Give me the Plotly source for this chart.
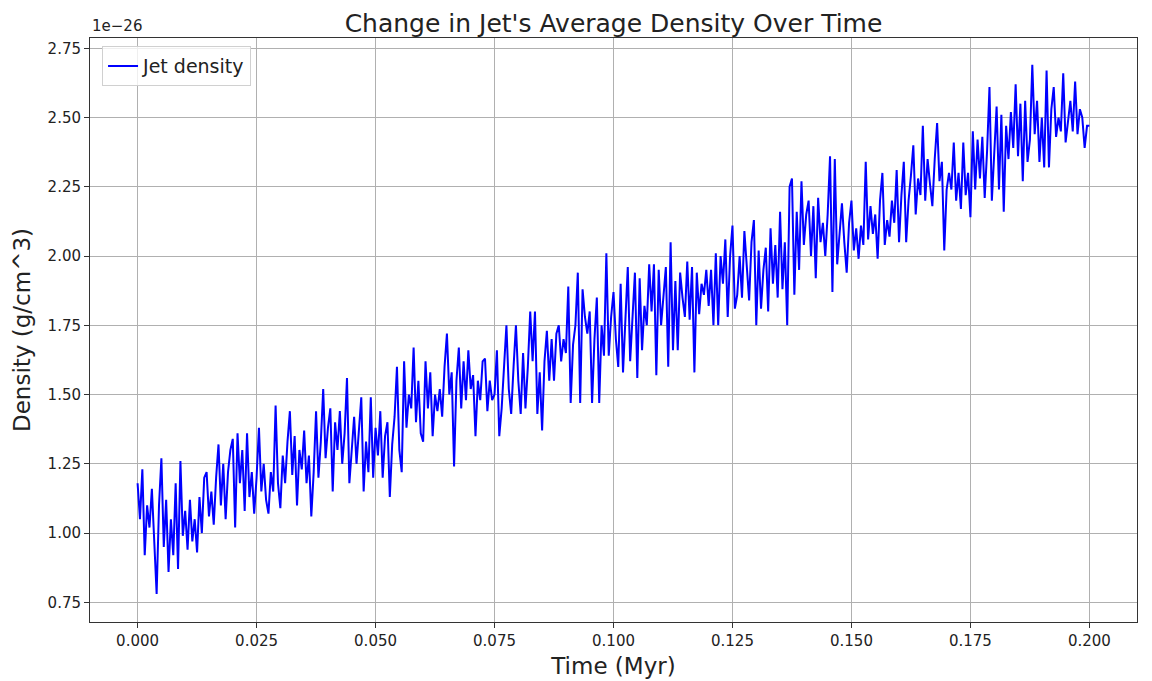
import numpy as np
import plotly.graph_objects as go

# time axis (Myr), 401 samples from 0 to 0.2
time_myr = np.linspace(0, 0.2, 401)

# average jet density, in units of 1e-26 g/cm^3
density_1e26 = [
    1.18, 1.05, 1.23, 0.92, 1.10, 1.02, 1.16, 0.98, 0.78, 1.10,
    1.27, 0.95, 1.12, 0.86, 1.05, 0.92, 1.18, 0.87, 1.26, 0.99,
    1.08, 0.94, 1.12, 0.97, 1.05, 0.93, 1.13, 1.00, 1.20, 1.22,
    1.06, 1.15, 1.03, 1.20, 1.32, 1.10, 1.25, 1.05, 1.22, 1.30,
    1.34, 1.02, 1.36, 1.18, 1.30, 1.08, 1.36, 1.13, 1.22, 1.07,
    1.20, 1.38, 1.15, 1.25, 1.12, 1.07, 1.22, 1.15, 1.46, 1.18,
    1.09, 1.28, 1.18, 1.33, 1.44, 1.21, 1.35, 1.10, 1.30, 1.23,
    1.37, 1.18, 1.28, 1.06, 1.22, 1.44, 1.20, 1.33, 1.52, 1.27,
    1.38, 1.45, 1.15, 1.40, 1.30, 1.44, 1.25, 1.36, 1.56, 1.18,
    1.30, 1.42, 1.25, 1.37, 1.49, 1.15, 1.33, 1.22, 1.49, 1.20,
    1.38, 1.28, 1.44, 1.20, 1.35, 1.40, 1.13, 1.32, 1.42, 1.60,
    1.30, 1.22, 1.62, 1.38, 1.50, 1.45, 1.67, 1.40, 1.55, 1.36,
    1.33, 1.62, 1.45, 1.58, 1.35, 1.50, 1.44, 1.52, 1.42, 1.60,
    1.72, 1.50, 1.58, 1.24, 1.55, 1.67, 1.45, 1.62, 1.48, 1.66,
    1.52, 1.57, 1.35, 1.55, 1.48, 1.62, 1.63, 1.44, 1.55, 1.48,
    1.50, 1.66, 1.35, 1.45, 1.62, 1.75, 1.52, 1.43, 1.60, 1.75,
    1.55, 1.43, 1.65, 1.45, 1.60, 1.80, 1.62, 1.80, 1.43, 1.58,
    1.37, 1.62, 1.73, 1.55, 1.70, 1.55, 1.72, 1.75, 1.62, 1.70,
    1.65, 1.89, 1.47, 1.68, 1.75, 1.94, 1.47, 1.88, 1.78, 1.72,
    1.80, 1.47, 1.70, 1.85, 1.47, 1.75, 1.64, 2.01, 1.64, 1.78,
    1.87, 1.70, 1.60, 1.90, 1.58, 1.75, 1.96, 1.62, 1.80, 1.94,
    1.56, 1.92, 1.66, 1.82, 1.75, 1.97, 1.80, 1.97, 1.57, 1.95,
    1.75, 1.85, 1.96, 1.60, 2.05, 1.66, 1.91, 1.66, 1.94, 1.85,
    1.78, 1.98, 1.77, 1.96, 1.58, 1.94, 1.79, 1.90, 1.86, 1.95,
    1.82, 1.95, 1.75, 2.01, 1.75, 2.00, 1.90, 2.06, 1.78, 2.00,
    2.11, 1.81, 1.86, 2.00, 1.85, 2.09, 1.95, 1.84, 2.05, 2.13,
    1.75, 2.02, 1.81, 1.95, 2.03, 1.80, 2.10, 1.90, 2.04, 1.85,
    2.16, 1.88, 2.05, 1.75, 2.25, 2.28, 1.86, 2.16, 1.95, 2.27,
    2.04, 2.15, 2.20, 2.00, 2.18, 1.92, 2.21, 2.05, 2.12, 2.00,
    2.15, 2.36, 1.87, 2.35, 1.97, 2.08, 2.19, 2.05, 1.94, 2.12,
    2.20, 2.02, 2.10, 1.99, 2.11, 2.04, 2.34, 2.06, 2.18, 2.08,
    2.15, 1.99, 2.20, 2.30, 2.04, 2.13, 2.07, 2.20, 2.12, 2.31,
    2.05, 2.22, 2.34, 2.05, 2.20, 2.29, 2.40, 2.15, 2.28, 2.22,
    2.47, 2.20, 2.35, 2.26, 2.18, 2.35, 2.48, 2.27, 2.34, 2.02,
    2.24, 2.30, 2.24, 2.41, 2.20, 2.30, 2.17, 2.41, 2.22, 2.30,
    2.14, 2.45, 2.24, 2.42, 2.28, 2.43, 2.21, 2.38, 2.61, 2.20,
    2.40, 2.54, 2.24, 2.51, 2.16, 2.47, 2.35, 2.52, 2.39, 2.62,
    2.36, 2.55, 2.27, 2.56, 2.34, 2.42, 2.69, 2.44, 2.56, 2.34,
    2.50, 2.32, 2.67, 2.32, 2.53, 2.61, 2.43, 2.50, 2.45, 2.66,
    2.41, 2.48, 2.56, 2.45, 2.63, 2.44, 2.53, 2.50, 2.39, 2.47,
    2.47,
]

x_ticks = [0.0, 0.025, 0.05, 0.075, 0.1, 0.125, 0.15, 0.175, 0.2]
y_ticks = [0.75, 1.0, 1.25, 1.5, 1.75, 2.0, 2.25, 2.5, 2.75]

font = "DejaVu Sans, Arial, sans-serif"

# page body has an 8px margin, so the figure is a bit smaller than the window
W, H = 1144, 673

fig = go.Figure()
fig.add_trace(go.Scatter(
    x=time_myr, y=density_1e26,
    mode="lines", name="Jet density",
    line=dict(color="#0000ff", width=2),
))

axis_common = dict(
    showgrid=True, gridcolor="#b0b0b0", gridwidth=1,
    showline=True, linecolor="#333333", linewidth=1, mirror=True,
    ticks="outside", ticklen=5, tickcolor="#333333",
    zeroline=False, automargin=False,
    tickfont=dict(size=15, color="#222222"),
)

fig.update_layout(
    width=W, height=H,
    paper_bgcolor="white", plot_bgcolor="white",
    font=dict(family=font, color="#222222"),
    margin=dict(l=82, r=15, t=30, b=59),
    title=dict(
        text="Change in Jet's Average Density Over Time",
        x=0.5, xref="paper", xanchor="center",
        y=1 - 15 / H, yref="container", yanchor="middle",
        font=dict(size=25, color="#222222"),
    ),
    xaxis=dict(
        range=[-0.01, 0.21], tickvals=x_ticks, tickformat=".3f",
        title=dict(text="Time (Myr)", font=dict(size=23), standoff=8),
        **axis_common,
    ),
    yaxis=dict(
        range=[0.679, 2.787], tickvals=y_ticks, tickformat=".2f",
        title=dict(text="Density (g/cm^3)", font=dict(size=23), standoff=10),
        **axis_common,
    ),
    showlegend=True,
    legend=dict(
        x=0.0115, y=0.986, xanchor="left", yanchor="top",
        bgcolor="rgba(255,255,255,0.8)", bordercolor="#d0d0d0", borderwidth=1,
        font=dict(size=19, color="#222222"),
    ),
    annotations=[dict(
        text="1e\u221226", xref="paper", yref="paper", x=0, y=1,
        xanchor="left", yanchor="bottom", showarrow=False,
        font=dict(size=15, color="#222222"), yshift=1,
    )],
)

fig.write_html("out.html")
